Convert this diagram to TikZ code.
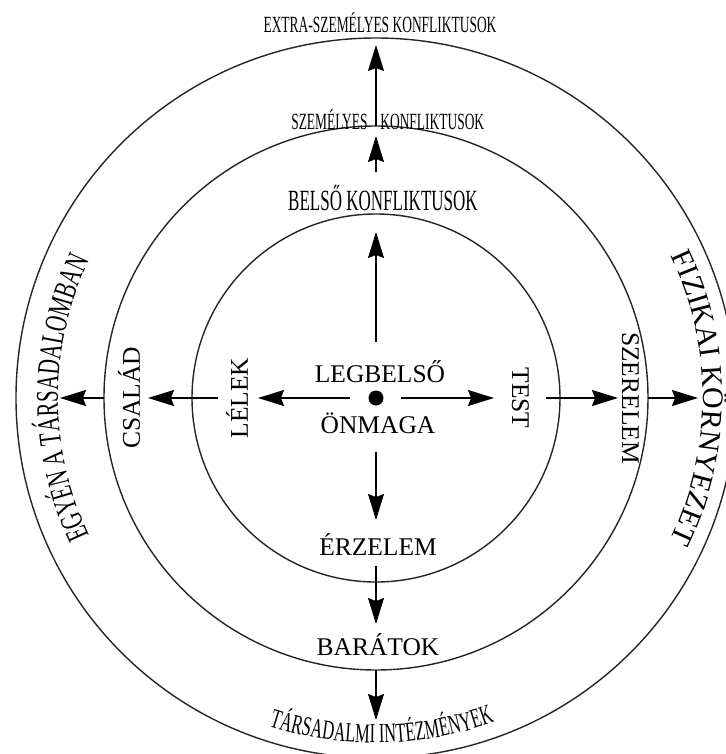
\documentclass[tikz,border=0pt]{standalone}
\usepackage{fontspec}
\setmainfont{Liberation Serif}
\newfontfamily\narrowfont[FakeStretch=0.58]{Liberation Serif}
\usetikzlibrary{arrows.meta, positioning, decorations.text}
\newcommand{\bigarcfont}{\fontsize{17}{20}\selectfont}
\newcommand{\sidearcfont}{\fontsize{18}{21}\selectfont}
\newcommand{\bottomarcfont}{\fontsize{15.6}{18}\selectfont}

\begin{document}
\begin{tikzpicture}[
  x=0.02cm, y=0.02cm,
  ring/.style={draw=black!85, line width=0.8pt},
  arrow/.style={-{Stealth[length=5.2mm,width=3.2mm,inset=0.6mm]}, line width=1pt},
  lab/.style={inner sep=0pt, anchor=base, font=\fontsize{14.5}{17}\selectfont},
  labup/.style={lab, rotate=90},
  labdown/.style={lab, rotate=-90},
  conf/.style={inner sep=0pt, anchor=base, font=\narrowfont\fontsize{13.2}{15}\selectfont}
]
\useasboundingbox (-376,-356) rectangle (350,398);
\draw[ring] (0,0) circle[radius=184];
\draw[ring] (0,0) circle[radius=272];
\draw[ring] (0,0) circle[radius=360];

\node[circle, fill, inner sep=0pt, minimum size=3mm] (self) at (0,0) {};
\node[lab] (legbelso) at (4,16) {LEGBELSŐ};
\node[lab] (onmaga) at (2,-35) {ÖNMAGA};
\node[labup] (lelek) at (-128,0) {LÉLEK};
\node[labdown] (test) at (136,0) {TEST};
\node[lab] (erzelem) at (2,-157) {ÉRZELEM};
\node[labup] (csalad) at (-236,0) {CSALÁD};
\node[labdown] (szerelem) at (246,0) {SZERELEM};
\node[lab] (baratok) at (2,-257) {BARÁTOK};
\node[conf, font=\narrowfont\fontsize{16.7}{18}\selectfont] (belso) at (7,188) {BELSŐ KONFLIKTUSOK};
\node[conf, anchor=base east] (szemelyes) at (-8,268) {SZEMÉLYES};
\node[conf, anchor=base west] (konfl) at (4,268) {KONFLIKTUSOK};
\node[conf] (extra) at (4,365) {EXTRA-SZEMÉLYES KONFLIKTUSOK};

\path[decorate, decoration={text effects along path,
  text={EGYÉN A TÁRSADALOMBAN}, text align=center,
  text effects/.cd, text along path,
  characters={inner sep=0pt, anchor=base, xscale=0.66, font=\sidearcfont}}]
  (212:318) arc[start angle=212, end angle=148, radius=318];
\path[decorate, decoration={text along path, text align=center,
  text={|\bigarcfont|FIZIKAI KÖRNYEZET}}]
  (32:327) arc[start angle=32, end angle=-32, radius=327];
\path[decorate, decoration={text effects along path,
  text={TÁRSADALMI INTÉZMÉNYEK}, text align=center,
  text effects/.cd, text along path,
  characters={inner sep=0pt, anchor=base, xscale=0.6, font=\bottomarcfont}}]
  (246:345) arc[start angle=246, end angle=296, radius=345];

\coordinate (upS1) at (0,56);   \coordinate (upT1) at (0,166);
\coordinate (upS2) at (0,226);  \coordinate (upT2) at (0,262);
\coordinate (upS3) at (90:272); \coordinate (upT3) at (0,353);
\coordinate (dnS1) at (0,-54);   \coordinate (dnT1) at (0,-122);
\coordinate (dnS2) at (0,-168);  \coordinate (dnT2) at (0,-226);
\coordinate (dnS3) at (270:272); \coordinate (dnT3) at (0,-322);
\coordinate (ltS1) at (-26,0);   \coordinate (ltT1) at (-118,0);
\coordinate (ltS2) at (-158,0);  \coordinate (ltT2) at (-228,0);
\coordinate (ltS3) at (180:272); \coordinate (ltT3) at (-316,0);
\coordinate (rtS1) at (25,0);    \coordinate (rtT1) at (118,0);
\coordinate (rtS2) at (170,0);   \coordinate (rtT2) at (242,0);
\coordinate (rtS3) at (0:272);   \coordinate (rtT3) at (322,0);

\draw[arrow] (upS1) -- (upT1);
\draw[arrow] (upS2) -- (upT2);
\draw[arrow] (upS3) -- (upT3);
\draw[arrow] (dnS1) -- (dnT1);
\draw[arrow] (dnS2) -- (dnT2);
\draw[arrow] (dnS3) -- (dnT3);
\draw[arrow] (ltS1) -- (ltT1);
\draw[arrow] (ltS2) -- (ltT2);
\draw[arrow] (ltS3) -- (ltT3);
\draw[arrow] (rtS1) -- (rtT1);
\draw[arrow] (rtS2) -- (rtT2);
\draw[arrow] (rtS3) -- (rtT3);
\end{tikzpicture}
\end{document}
